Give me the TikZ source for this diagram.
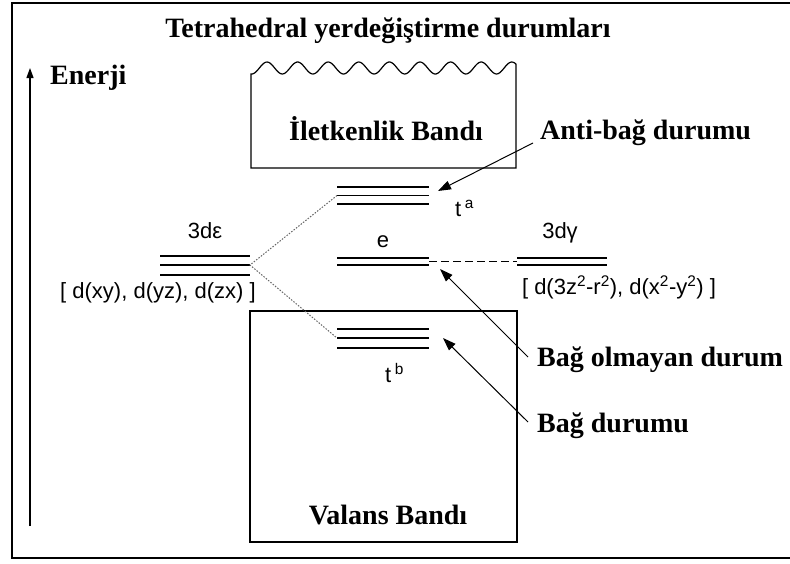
\documentclass[tikz,border=0pt]{standalone}
\usepackage{fontspec}
\setmainfont{Liberation Serif}
\setsansfont{Liberation Sans}
\usetikzlibrary{arrows.meta}

\begin{document}
\begin{tikzpicture}[x=1pt,y=-1pt,
	lbl/.style={font=\fontsize{28}{31}\selectfont\bfseries, inner sep=0pt, anchor=base west},
	orb/.style={font=\sffamily\fontsize{22}{24}\selectfont, inner sep=0pt, anchor=base},
	level/.style={line width=1.3pt},
	pointer/.style={line width=1pt, -{Triangle[length=13pt,width=9pt]}}]
  	\useasboundingbox (0,0) rectangle (790,563);
  	\draw[line width=2pt] (790,3) -- (12,3) -- (12,558) -- (790,558);
  	\node[lbl, anchor=base] (title) at (388,37) {Tetrahedral yerdeğiştirme durumları};
  	\coordinate (ebot) at (30,526);
  	\coordinate (etop) at (30,68);
  	\draw[line width=1.2pt, -{Triangle[length=10pt,width=7pt]}] (ebot) -- (etop);
  	\node[lbl] (energy) at (50,84) {Enerji};
  	\draw[line width=1.2pt] (251,168) -- plot[domain=251:516, samples=180] (\x,{68-6*cos(11.765*(\x-267))}) -- (516,168) -- cycle;
  	\node[lbl, anchor=base] (cband) at (386,140) {İletkenlik Bandı};
  	\draw[line width=1.2pt] (250,311) rectangle (517,542);
  	\node[lbl, anchor=base] (vband) at (388,524) {Valans Bandı};
  	\foreach \y in {256,265,275} \draw[level] (160,\y) -- (250,\y);
  	\foreach \y in {187,195.5,204} \draw[level] (337,\y) -- (429,\y);
  	\foreach \y in {258,265} \draw[level] (337,\y) -- (429,\y);
  	\foreach \y in {329,338,348} \draw[level] (337,\y) -- (429,\y);
  	\foreach \y in {258,265} \draw[level] (517,\y) -- (607,\y);
  	\coordinate (deps) at (250,265);
  	\coordinate (ta) at (337,195.5);
  	\coordinate (tb) at (337,338);
  	\coordinate (eend) at (429,261.5);
  	\coordinate (dgam) at (517,261.5);
  	\draw[gray!80!black, line width=1pt, dash pattern=on 1.5pt off 1.5pt] (ta) -- (deps) -- (tb);
  	\draw[line width=1pt, dash pattern=on 8pt off 4pt] (eend) -- (dgam);
  	\node[orb] (depslbl) at (205,238) {3dε};
  	\node[orb] (depsset) at (158,298) {[ d(xy), d(yz), d(zx) ]};
  	\node[orb] (elbl) at (383,247) {e};
  	\node[orb] (dgamlbl) at (560,238) {3dγ};
  	\node[orb] (dgamset) at (619,294) {[ d(3z\textsuperscript{2}-r\textsuperscript{2}), d(x\textsuperscript{2}-y\textsuperscript{2}) ]};
  	\node[orb, anchor=base west] (talbl) at (455,216) {t\,\textsuperscript{a}};
  	\node[orb, anchor=base west] (tblbl) at (385,382) {t\,\textsuperscript{b}};
  	\node[lbl] (antibag) at (540,139) {Anti-bağ durumu};
  	\node[lbl] (nonbag) at (537,366) {Bağ olmayan durum};
  	\node[lbl] (bag) at (537,432) {Bağ durumu};
  	\coordinate (tatip) at (438,191);
  	\coordinate (etip) at (440,269);
  	\coordinate (tbtip) at (443,338);
  	\draw[pointer] ([shift={(-7,4)}]antibag.base west) -- (tatip);
  	\draw[pointer] ([shift={(-9,-9)}]nonbag.base west) -- (etip);
  	\draw[pointer] ([shift={(-9,-10)}]bag.base west) -- (tbtip);
\end{tikzpicture}
\end{document}
